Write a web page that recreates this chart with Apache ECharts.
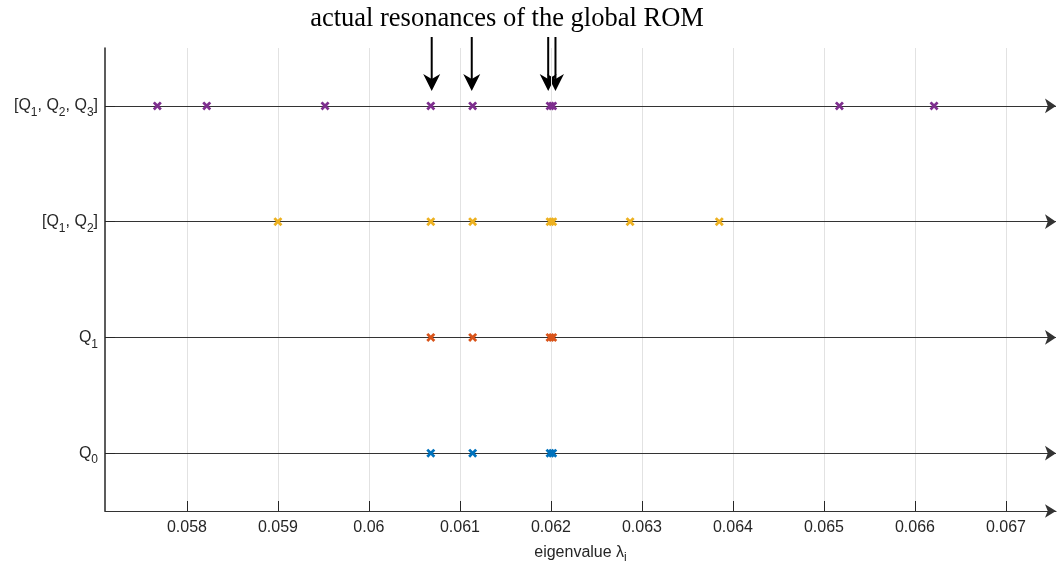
<!DOCTYPE html>
<html>
<head>
<meta charset="utf-8">
<script src="https://cdn.jsdelivr.net/npm/echarts@6/dist/echarts.min.js"></script>
<style>
  html, body { margin: 0; padding: 0; background: #ffffff; }
  #chart { width: 1057px; height: 569px; }
</style>
</head>
<body>
<div id="chart"></div>
<script>
// Rows of the plot, bottom to top ("_d" marks a subscript digit)
const rowLabels = ['Q_0', 'Q_1', '[Q_1, Q_2]', '[Q_1, Q_2, Q_3]'];

// Eigenvalue axis
const xMin = 0.0571;
const xMax = 0.06755;
const xTicks = [0.058, 0.059, 0.060, 0.061, 0.062, 0.063, 0.064, 0.065, 0.066, 0.067];

// Eigenvalues of each reduced model
const eigQ0 = [0.06068, 0.06114, 0.06199, 0.06202];
const eigQ1 = [0.06068, 0.06114, 0.06199, 0.06202];
const eigQ1Q2 = [0.05900, 0.06068, 0.06114, 0.06199, 0.06202, 0.06287, 0.06385];
const eigQ1Q2Q3 = [0.057675, 0.058218, 0.059518, 0.06068, 0.06114, 0.06199, 0.06202, 0.06517, 0.06621];

// Resonances of the global ROM, pointed at by the arrows above the plot
const resonances = [0.06069, 0.06113, 0.06197, 0.06205];

const colors = ['#0072BD', '#D95319', '#EDB120', '#7E2F8E'];
const rows = [eigQ0, eigQ1, eigQ1Q2, eigQ1Q2Q3];

const axisColor = '#262626';
const lineColor = '#333333';
const fontFamily = '"Liberation Sans", Arial, Helvetica, sans-serif';
const tickLength = 10;

// bold cross-shaped marker
const crossPath = 'path://M0,2.2L2.2,0L5,2.8L7.8,0L10,2.2L7.2,5L10,7.8L7.8,10L5,7.2L2.2,10L0,7.8L2.8,5Z';

// turn "Q_1" style text into rich text with subscripts
function toRich(str) {
  return str.replace(/_(\w)/g, '{s|$1}');
}

const richStyles = {
  s: { fontSize: 12, fontFamily: fontFamily, color: axisColor, verticalAlign: 'bottom', lineHeight: 10 }
};

const chart = echarts.init(document.getElementById('chart'), null, { renderer: 'canvas' });

const scatterSeries = rows.map((vals, i) => ({
  type: 'scatter',
  name: rowLabels[i],
  data: vals.map(v => [v, i]),
  symbol: crossPath,
  symbolSize: 9,
  itemStyle: { color: colors[i], opacity: 1 },
  z: 5,
  silent: true
}));

const grid = { left: 105, right: 1, top: 48, bottom: 56, containLabel: false };
const plotHeight = 569 - grid.top - grid.bottom;
// grid lines start just above the inward ticks so the ticks stay dark
const gridLineStart = tickLength / plotHeight;

// vertical grid lines at the x ticks, spanning the plot height (helper axis 0..1)
const gridSeries = {
  type: 'line',
  yAxisIndex: 1,
  data: [[xMin, 0]],
  showSymbol: false,
  lineStyle: { opacity: 0 },
  z: 0,
  silent: true,
  markLine: {
    silent: true,
    symbol: ['none', 'none'],
    label: { show: false },
    animation: false,
    lineStyle: { color: '#e2e2e2', width: 1, type: 'solid' },
    data: xTicks.map(v => [{ coord: [v, gridLineStart] }, { coord: [v, 1] }])
  }
};

// a horizontal arrow line through every row
const rowLineSeries = {
  type: 'scatter',
  data: [[xMin, 0]],
  symbolSize: 0,
  z: 2,
  silent: true,
  markLine: {
    silent: true,
    symbol: ['none', 'arrow'],
    symbolSize: 11,
    label: { show: false },
    animation: false,
    lineStyle: { color: lineColor, width: 1.2, type: 'solid' },
    data: rowLabels.map((_, i) => [{ coord: [xMin, i] }, { coord: [xMax, i] }])
  }
};

chart.setOption({
  animation: false,
  backgroundColor: '#ffffff',
  grid: grid,
  xAxis: {
    type: 'value',
    min: xMin,
    max: xMax,
    z: 10,
    name: 'eigenvalue λ{s|i}',
    nameLocation: 'middle',
    nameGap: 31,
    nameTextStyle: { fontSize: 16, fontFamily: fontFamily, color: axisColor, lineHeight: 22, rich: richStyles },
    axisLine: { show: true, onZero: false, symbol: ['none', 'arrow'], symbolSize: [10, 11], lineStyle: { color: lineColor, width: 1.2 } },
    axisTick: { show: true, inside: true, length: tickLength, customValues: xTicks, lineStyle: { color: axisColor, width: 1 } },
    axisLabel: {
      show: true,
      customValues: xTicks,
      margin: 9,
      fontSize: 16,
      fontFamily: fontFamily,
      color: axisColor,
      formatter: v => String(Number(v.toFixed(4)))
    },
    splitLine: { show: false }
  },
  yAxis: [{
    type: 'category',
    data: rowLabels,
    boundaryGap: true,
    z: 10,
    axisLine: { show: true, lineStyle: { color: axisColor, width: 1.5 } },
    axisTick: { show: true, inside: true, length: tickLength, alignWithLabel: true, lineStyle: { color: axisColor, width: 1 } },
    axisLabel: {
      margin: 7,
      fontSize: 16,
      fontFamily: fontFamily,
      color: axisColor,
      lineHeight: 26,
      formatter: v => toRich(v),
      rich: richStyles
    },
    splitLine: { show: false }
  }, {
    type: 'value',
    min: 0,
    max: 1,
    show: false
  }],
  series: [gridSeries, rowLineSeries].concat(scatterSeries)
});

// title text and arrows marking the global ROM resonances
const gridTop = grid.top;
const graphics = [{
  type: 'text',
  x: 507,
  y: 19,
  silent: true,
  style: {
    text: 'actual resonances of the global ROM',
    font: '26.5px "Liberation Serif", "Times New Roman", serif',
    fill: '#000000',
    align: 'center',
    verticalAlign: 'middle'
  }
}];
resonances.forEach(v => {
  const x = chart.convertToPixel({ xAxisIndex: 0 }, v);
  graphics.push({
    type: 'line',
    silent: true,
    shape: { x1: x, y1: gridTop - 11, x2: x, y2: gridTop + 33 },
    style: { stroke: '#000000', lineWidth: 2 }
  });
  graphics.push({
    type: 'polygon',
    silent: true,
    shape: { points: [[x, gridTop + 43], [x - 8.5, gridTop + 26], [x, gridTop + 31], [x + 8.5, gridTop + 26]] },
    style: { fill: '#000000' }
  });
});
chart.setOption({ graphic: graphics });
</script>
</body>
</html>
